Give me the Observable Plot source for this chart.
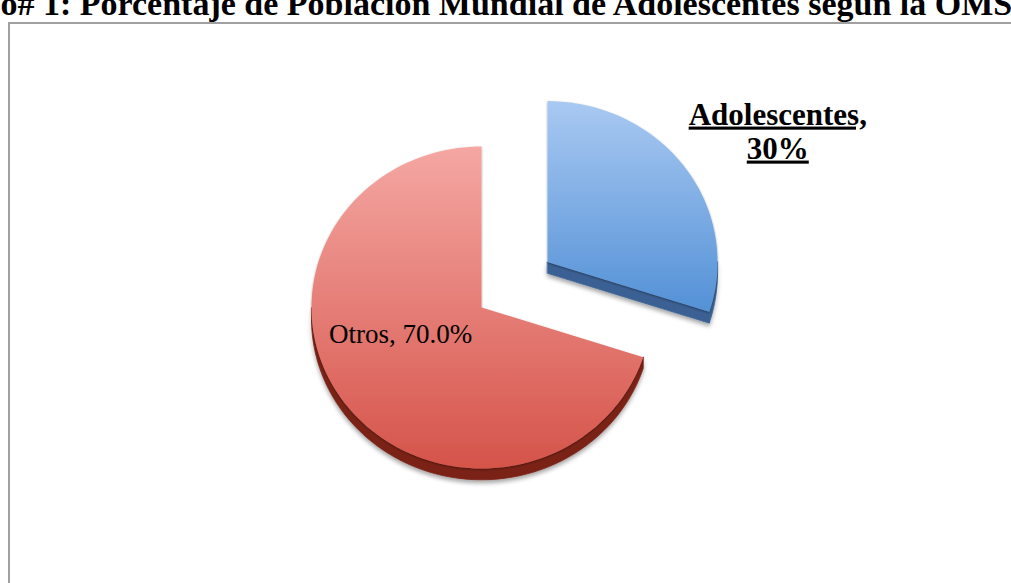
<!DOCTYPE html>
<html>
<head>
<meta charset="utf-8">
<script src="https://cdn.jsdelivr.net/npm/d3@7"></script>
<script src="https://cdn.jsdelivr.net/npm/@observablehq/plot@0.6"></script>
<style>
  html, body { margin: 0; padding: 0; background: #fff; }
  #wrap { position: relative; width: 1011px; height: 583px; overflow: hidden; background: #fff; }
  #chart { position: absolute; left: 0; top: 0; }
  #frame { position: absolute; left: 8px; top: 22px; width: 1200px; height: 800px; border: 2px solid #a0a0a0; box-sizing: border-box; }
  #title { position: absolute; left: -94px; top: -13px; white-space: nowrap; font-family: "Liberation Serif", serif; font-weight: bold; font-size: 34px; line-height: 34px; color: #000; }
</style>
</head>
<body>
<div id="wrap">
  <div id="chart"></div>
  <div id="frame"></div>
  <div id="title">Gráfico# 1: Porcentaje de Población Mundial de Adolescentes según la OMS</div>
</div>
<script>
// ---- data ----
const categories = ["Adolescentes", "Otros"];
const values = [30, 70];
const labelTexts = ["Adolescentes,\n30%", "Otros, 70.0%"];

// ---- styling / layout (not data) ----
const explode = [0.48, 0];
const faceTop = ["#a9c9f2", "#f5a7a3"];
const faceBottom = ["#5391d6", "#d5544a"];
const sideColor = ["#3a6193", "#7a2219"];
const depth = 0.07;
const labelLayout = [
  {dAngle: 0.066, r: 2.06, bold: true, size: 31},
  {dAngle: 0.314, r: 0.5, bold: false, size: 27}
];

const pie = d3.pie().sort(null).value(d => d)(values);
const slices = categories.map((name, i) => {
  const a0 = pie[i].startAngle, a1 = pie[i].endAngle, mid = (a0 + a1) / 2;
  return {name, i, a0, a1, mid, ox: explode[i] * Math.sin(mid), oy: explode[i] * Math.cos(mid)};
});

const STEPS = 180;
function arc(s, from, to) {
  const n = Math.max(2, Math.ceil(STEPS * (to - from) / (2 * Math.PI)));
  return d3.range(n + 1).map(k => {
    const a = from + (to - from) * k / n;
    return {x: s.ox + Math.sin(a), y: s.oy + Math.cos(a)};
  });
}

const faces = slices.map(s => [{x: s.ox, y: s.oy}, ...arc(s, s.a0, s.a1)].map(p => ({...p, name: s.name})));

const sides = slices.map(s => {
  const polys = [];
  const lo = Math.max(s.a0, Math.PI / 2), hi = Math.min(s.a1, 3 * Math.PI / 2);
  if (hi > lo) {
    const top = arc(s, lo, hi);
    const bot = top.map(p => ({x: p.x, y: p.y - depth})).reverse();
    polys.push([...top, ...bot]);
  }
  const c = {x: s.ox, y: s.oy};
  const edge = a => ({x: s.ox + Math.sin(a), y: s.oy + Math.cos(a)});
  if (Math.cos(s.a1 + Math.PI / 2) < -1e-6) {
    const p = edge(s.a1);
    polys.push([c, p, {x: p.x, y: p.y - depth}, {x: c.x, y: c.y - depth}]);
  }
  if (Math.cos(s.a0 - Math.PI / 2) < -1e-6) {
    const p = edge(s.a0);
    polys.push([c, p, {x: p.x, y: p.y - depth}, {x: c.x, y: c.y - depth}]);
  }
  return polys.flatMap((poly, j) => poly.map(p => ({...p, id: s.name + j})));
});

const labels = slices.map((s, i) => {
  const L = labelLayout[i];
  const a = s.mid + L.dAngle;
  return {x: L.r * Math.sin(a), y: L.r * Math.cos(a), text: labelTexts[i]};
});

const marks = [];
slices.forEach((s, i) => {
  marks.push(Plot.line(sides[i], {x: "x", y: "y", z: "id", curve: "linear-closed",
    fill: sideColor[i], stroke: sideColor[i], strokeWidth: 0.8, ariaDescription: "side-" + i}));
  marks.push(Plot.line(faces[i], {x: "x", y: "y", curve: "linear-closed",
    fill: faceBottom[i], stroke: "none", ariaDescription: "face-" + i}));
});
labels.forEach((l, i) => {
  const L = labelLayout[i];
  marks.push(Plot.text([l], {x: "x", y: "y", text: "text", fontFamily: "Liberation Serif",
    fontSize: L.size, fontWeight: L.bold ? "bold" : "normal", lineHeight: 34 / L.size,
    fill: "#000", textAnchor: "middle", ariaDescription: "label-" + i}));
});

const svg = Plot.plot({
  width: 1011, height: 583, margin: 0,
  style: {background: "transparent"},
  x: {domain: [-1, 1], range: [311, 651], axis: null},
  y: {domain: [-1, 1], range: [468, 146], axis: null},
  marks
});

const sel = d3.select(svg);
const defs = sel.insert("defs", ":first-child");
slices.forEach((s, i) => {
  const g = defs.append("linearGradient").attr("id", `grad-${i}`)
    .attr("x1", 0).attr("y1", 0).attr("x2", 0).attr("y2", 1);
  g.append("stop").attr("offset", "0%").attr("stop-color", faceTop[i]);
  g.append("stop").attr("offset", "100%").attr("stop-color", faceBottom[i]);
  sel.selectAll(`g[aria-description="face-${i}"], g[aria-description="face-${i}"] path`).attr("fill", `url(#grad-${i})`);
});
const f1 = defs.append("filter").attr("id", "shadow-side").attr("x", "-10%").attr("y", "-10%").attr("width", "120%").attr("height", "130%");
f1.append("feDropShadow").attr("dx", 0).attr("dy", 3).attr("stdDeviation", 2).attr("flood-color", "#000").attr("flood-opacity", 0.35);
const f2 = defs.append("filter").attr("id", "shadow-face").attr("x", "-10%").attr("y", "-10%").attr("width", "120%").attr("height", "120%");
f2.append("feDropShadow").attr("dx", 0).attr("dy", 1).attr("stdDeviation", 1.2).attr("flood-color", "#000").attr("flood-opacity", 0.4);
sel.selectAll('g[aria-description^="side-"]').attr("filter", "url(#shadow-side)");
sel.selectAll('g[aria-description^="face-"]').attr("filter", "url(#shadow-face)");
sel.selectAll('g[aria-description="label-0"] text')
  .style("text-decoration", "underline")
  .style("text-decoration-thickness", "2.5px")
  .style("text-underline-offset", "3px");

document.getElementById("chart").appendChild(svg);
</script>
</body>
</html>
